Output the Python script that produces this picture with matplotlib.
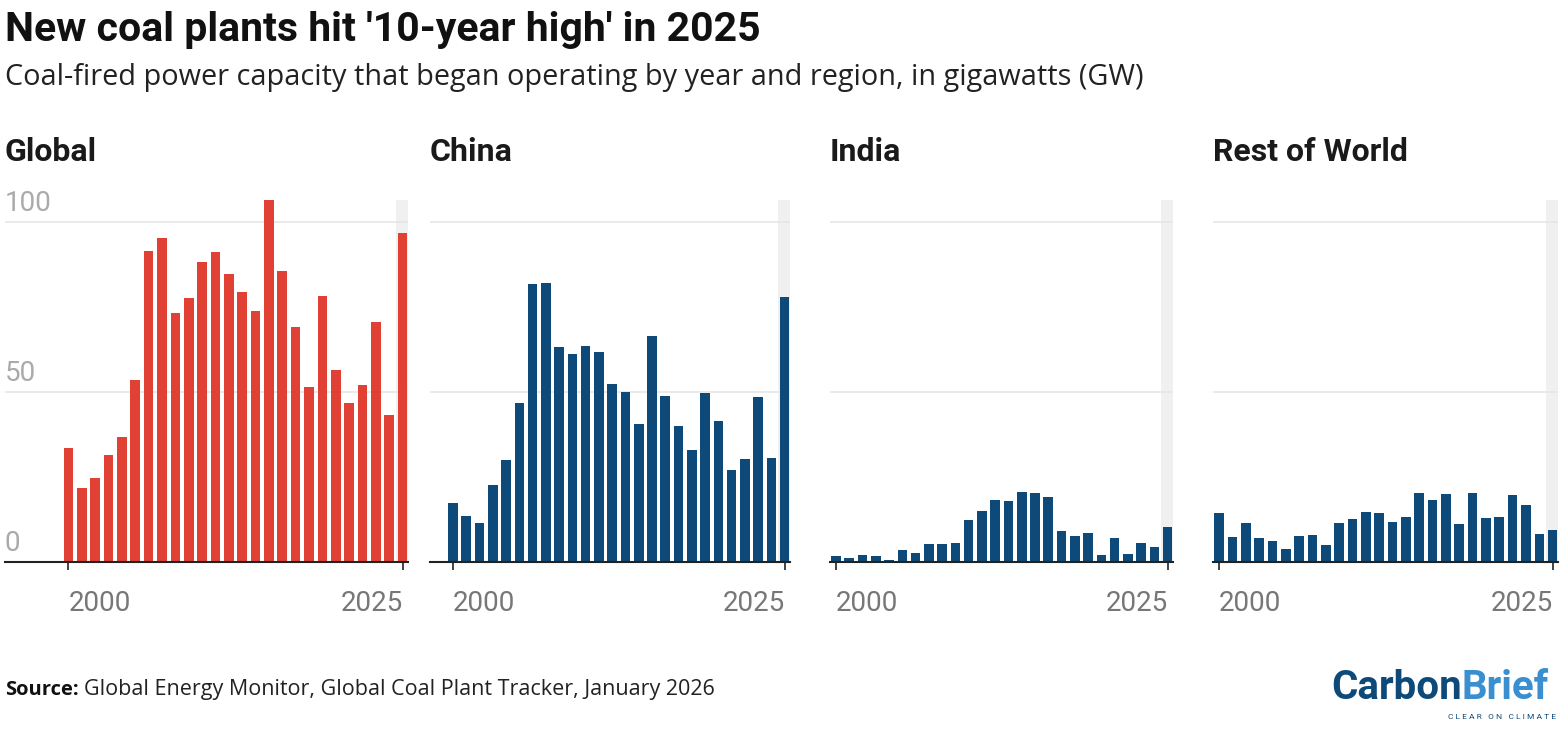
import matplotlib
matplotlib.use("Agg")
import matplotlib.pyplot as plt
import numpy as np

years = list(range(2000, 2026))
global_gw = [33.5,21.8,24.7,31.5,36.8,53.5,91.5,95.3,73.2,77.6,88.2,91.2,84.7,79.4,73.8,106.8,85.6,69.1,51.5,78.2,56.5,46.8,52.0,70.6,43.2,96.8]
china_gw = [17.4,13.5,11.5,22.6,30.0,46.8,81.8,82.0,63.2,61.2,63.5,61.8,52.4,50.0,40.6,66.5,48.8,40.0,33.0,49.7,41.5,27.0,30.3,48.5,30.6,78.0]
india_gw = [1.8,1.2,2.0,1.8,0.6,3.5,2.6,5.3,5.3,5.6,12.4,15.0,18.2,18.0,20.6,20.3,19.1,9.1,7.6,8.5,2.0,7.0,2.4,5.6,4.4,10.3]
row_gw = [14.4,7.4,11.5,7.0,6.2,3.8,7.6,7.9,5.0,11.5,12.6,14.7,14.4,11.8,13.2,20.3,18.2,20.0,11.2,20.3,12.9,13.2,19.7,16.8,8.2,9.4]
panels = ["Global", "China", "India", "Rest of World"]
series = [global_gw, china_gw, india_gw, row_gw]
colors = ["#e04134", "#0d4a79", "#0d4a79", "#0d4a79"]
yticks = [0, 50, 100]

W, H = 1560, 730
fig = plt.figure(figsize=(15.6, 7.3), dpi=100)
plt.rcParams['font.family'] = ['Roboto', 'DejaVu Sans']
OS = ['Open Sans', 'DejaVu Sans']

geo = [(5, 408, 1995.26), (430, 790, 1998.27), (830, 1173, 1999.55), (1213, 1558, 1999.55)]
top_px, bot_px = 200, 562
for i, (name, vals, col) in enumerate(zip(panels, series, colors)):
    l, r, xl = geo[i]
    ax = fig.add_axes([l / W, 1 - bot_px / H, (r - l) / W, (bot_px - top_px) / H])
    ax.set_xlim(xl, 2025.4)
    ax.set_ylim(0, 106.5)
    ax.axvspan(2024.5, 2025.4, color="#f0f0f0", zorder=0, lw=0)
    for t in yticks[1:]:
        ax.axhline(t, color="#e6e6e6", lw=1.2, zorder=0.5)
    ax.bar(years, vals, width=0.72, color=col, zorder=2)
    ax.axhline(0, color="#222222", lw=1.5, zorder=3, clip_on=False)
    for s in ax.spines.values():
        s.set_visible(False)
    ax.set_yticks([])
    ax.set_xticks([2000, 2025])
    labs = ax.set_xticklabels(["2000", "2025"])
    labs[0].set_ha("left")
    labs[1].set_ha("right")
    ax.tick_params(axis="x", length=6, width=1.2, color="#222222", labelsize=20,
                   labelcolor="#777777", pad=14)
    if i == 0:
        for t in yticks:
            ax.text(xl, t + 1.5, str(t), fontsize=20, color="#aaaaaa",
                    ha="left", va="bottom", zorder=1)
    fig.text(l / W, 1 - 152 / H, name, fontsize=23, fontweight="bold",
             color="#1a1a1a", ha="left", va="center")

fig.text(5 / W, 1 - 30 / H, "New coal plants hit '10-year high' in 2025", fontsize=29.5,
         fontweight="bold", color="#111111", ha="left", va="center")
fig.text(5 / W, 1 - 78 / H, "Coal-fired power capacity that began operating by year and region, in gigawatts (GW)",
         fontsize=20.8, color="#222222", ha="left", va="center", family=OS)
fig.text(5 / W, 1 - 690 / H, "Source:", fontsize=14.5, fontweight="bold", color="#111111",
         ha="left", va="center", family=OS)
fig.text(84 / W, 1 - 690 / H, "Global Energy Monitor, Global Coal Plant Tracker, January 2026",
         fontsize=15.5, color="#222222", ha="left", va="center", family=OS)
fig.text(1462 / W, 1 - 688 / H, "Carbon", fontsize=29, fontweight="bold", color="#0d4a79",
         ha="right", va="center")
fig.text(1462 / W, 1 - 688 / H, "Brief", fontsize=29, fontweight="bold", color="#3a8fd0",
         ha="left", va="center")
fig.text(1556 / W, 1 - 717 / H, "C L E A R   O N   C L I M A T E", fontsize=6, color="#0d4a79",
         ha="right", va="center")
fig.savefig("out.png", dpi=100)
